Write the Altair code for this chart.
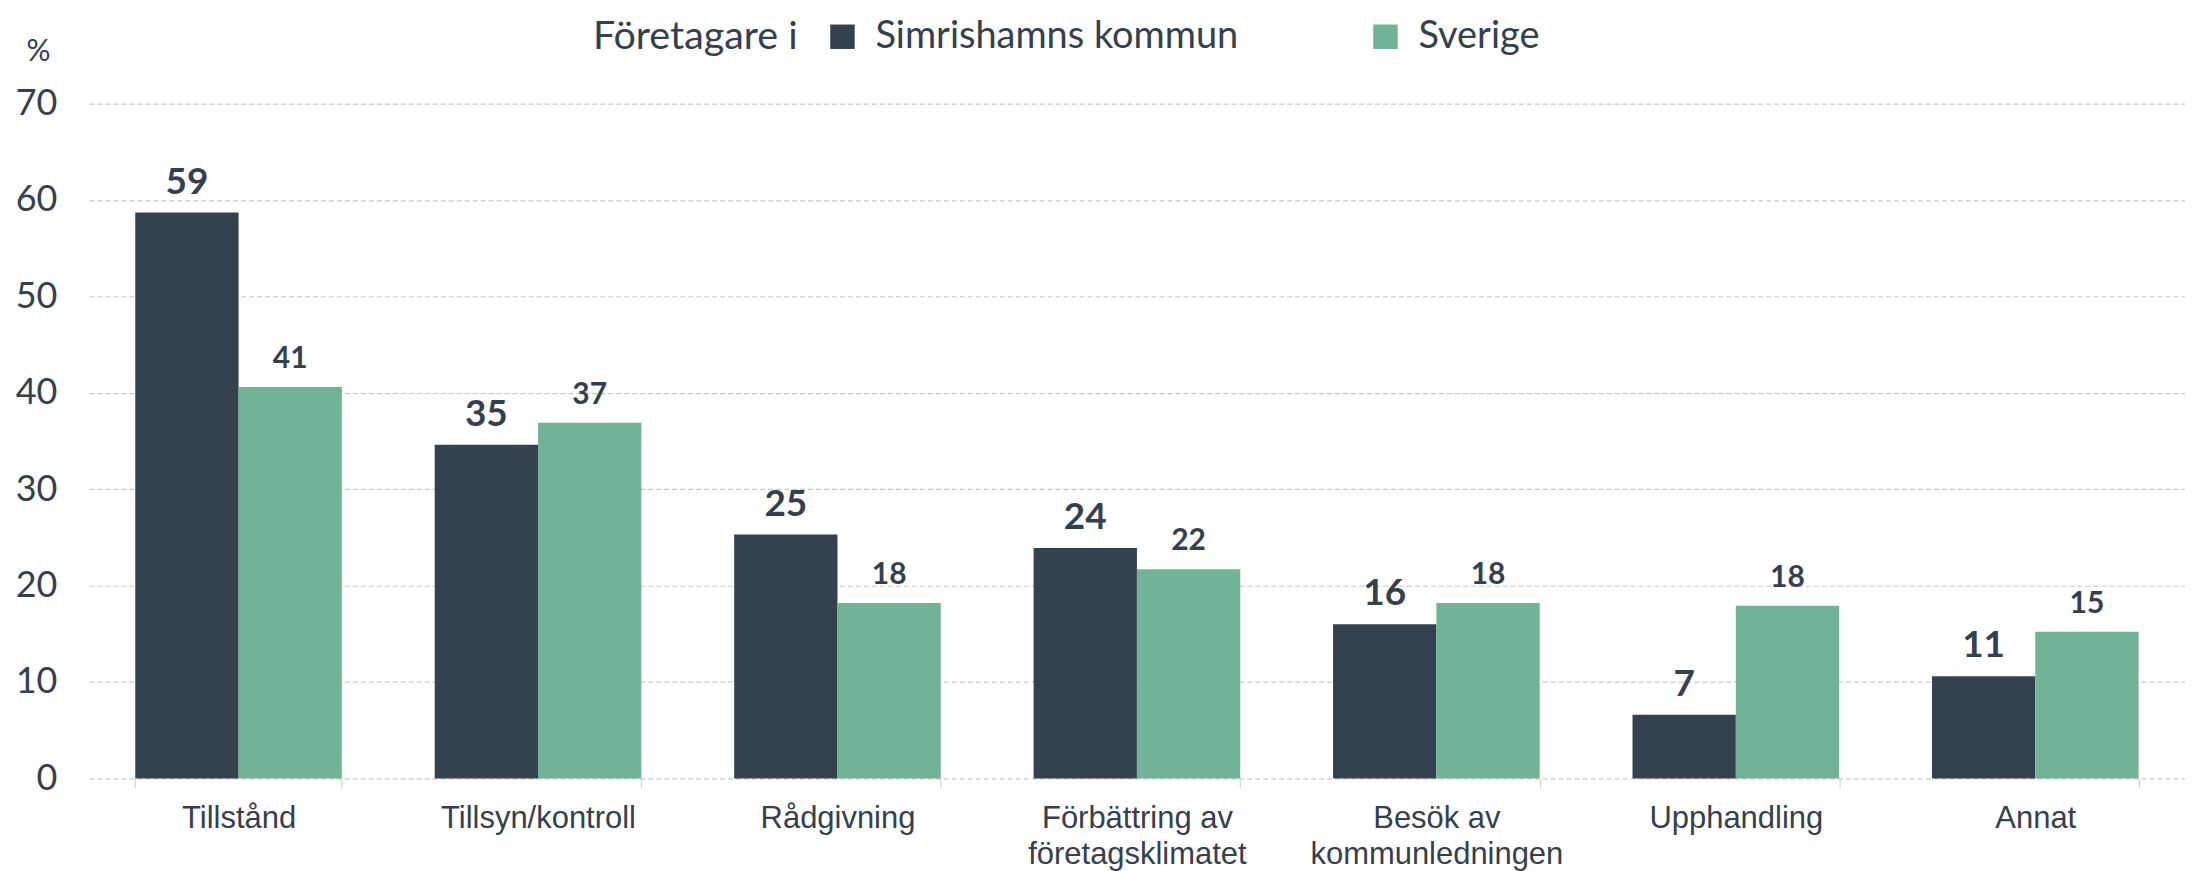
import altair as alt
import pandas as pd

# ---- data ----
kategorier = [
    "Tillstånd",
    "Tillsyn/kontroll",
    "Rådgivning",
    "Förbättring av företagsklimatet",
    "Besök av kommunledningen",
    "Upphandling",
    "Annat",
]
grupper = ["Simrishamns kommun", "Sverige"]
simrishamn = [58.7, 34.6, 25.3, 23.9, 16.0, 6.6, 10.6]
sverige = [40.6, 36.9, 18.2, 21.7, 18.2, 17.9, 15.2]
simrishamn_etiketter = ["59", "35", "25", "24", "16", "7", "11"]
sverige_etiketter = ["41", "37", "18", "22", "18", "18", "15"]
y_ticks = [0, 10, 20, 30, 40, 50, 60, 70]
farger = ["#34414f", "#71b397"]

rows = []
for k, v, e in zip(kategorier, simrishamn, simrishamn_etiketter):
    rows.append({"kategori": k, "grupp": grupper[0], "varde": v, "etikett": e})
for k, v, e in zip(kategorier, sverige, sverige_etiketter):
    rows.append({"kategori": k, "grupp": grupper[1], "varde": v, "etikett": e})
df = pd.DataFrame(rows)

TEXT = "#34404e"
GRID = "#c8c8c8"

label_expr = (
    "datum.label == 'Förbättring av företagsklimatet' ? ['Förbättring av', 'företagsklimatet'] : "
    "datum.label == 'Besök av kommunledningen' ? ['Besök av', 'kommunledningen'] : datum.label"
)

x_enc = alt.X(
    "kategori:N",
    sort=kategorier,
    scale=alt.Scale(paddingInner=0.31, paddingOuter=0.155),
    axis=alt.Axis(
        title=None,
        labelAngle=0,
        labelFont="Liberation Sans",
        labelFontSize=31,
        labelColor=TEXT,
        labelPadding=16,
        labelLineHeight=36,
        labelLimit=0,
        labelExpr=label_expr,
        domain=False,
        ticks=True,
        tickBand="extent",
        tickColor=GRID,
        tickSize=9,
        grid=False,
    ),
)
xoff_enc = alt.XOffset("grupp:N", sort=grupper, scale=alt.Scale(paddingInner=0, paddingOuter=0))
y_enc = alt.Y(
    "varde:Q",
    scale=alt.Scale(domain=[0, 70], nice=False),
    axis=alt.Axis(
        values=y_ticks,
        title="%",
        titleAngle=0,
        titleX=-51,
        titleY=-52,
        titleAlign="center",
        titleBaseline="middle",
        titleFont="Lato",
        titleFontSize=30,
        titleFontWeight="normal",
        titleColor=TEXT,
        labelFont="Lato",
        labelFontSize=36,
        labelColor=TEXT,
        labelPadding=32,
        domain=False,
        ticks=False,
        grid=True,
        gridDash=[5, 3],
        gridColor=GRID,
        gridWidth=1.2,
    ),
)

base = alt.Chart(df).encode(x=x_enc, xOffset=xoff_enc, y=y_enc)

bars = base.mark_bar().encode(
    color=alt.Color(
        "grupp:N",
        sort=grupper,
        scale=alt.Scale(domain=grupper, range=farger),
        legend=alt.Legend(
            orient="none",
            legendX=505,
            legendY=-86,
            direction="horizontal",
            title="Företagare i",
            titleOrient="left",
            titleFont="Lato",
            titleFontSize=39.5,
            titleFontWeight="normal",
            titleColor=TEXT,
            titlePadding=25,
            titleLimit=0,
            labelFont="Lato",
            labelFontSize=38,
            labelColor=TEXT,
            labelOffset=14,
            labelLimit=0,
            symbolType="square",
            symbolSize=600,
            symbolStrokeWidth=0,
            columnPadding=128,
        ),
    )
)

text_kommun = (
    base.transform_filter(alt.datum.grupp == grupper[0])
    .mark_text(dy=-19, baseline="alphabetic", font="Lato", fontWeight="bold", fontSize=37, color=TEXT)
    .encode(text="etikett:N")
)
text_sverige = (
    base.transform_filter(alt.datum.grupp == grupper[1])
    .mark_text(dy=-19, baseline="alphabetic", font="Lato", fontWeight="bold", fontSize=30, color=TEXT)
    .encode(text="etikett:N")
)

chart = (
    alt.layer(bars, text_kommun, text_sverige)
    .properties(
        width=2100,
        height=676,
        autosize=alt.AutoSizeParams(type="none"),
        padding={"left": 81, "top": 95, "right": 0, "bottom": 92},
    )
    .configure_view(stroke=None)
)

chart.save("out.html", embed_options={"renderer": "svg", "actions": False})
